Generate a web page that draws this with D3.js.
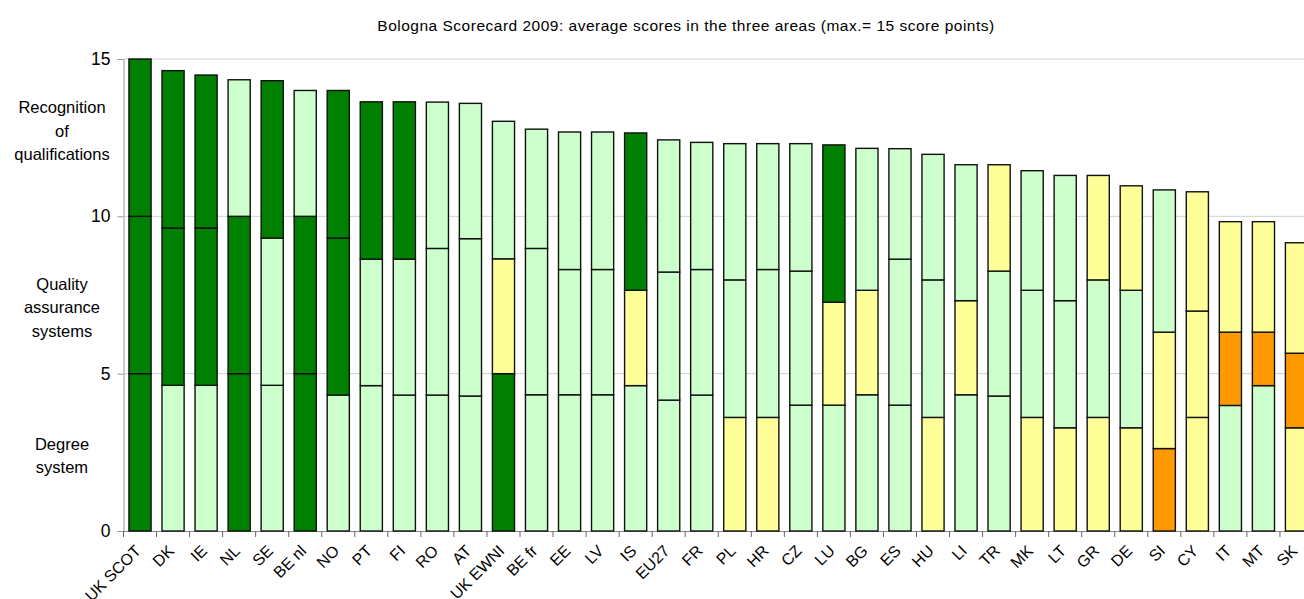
<!DOCTYPE html>
<html>
<head>
<meta charset="utf-8">
<script src="https://cdn.jsdelivr.net/npm/d3@7"></script>
<style>
  body { margin: 0; background: #fff; overflow: hidden; }
  svg { display: block; font-family: "Liberation Sans", Arial, sans-serif; }
</style>
</head>
<body>
<svg id="chart" width="1304" height="599"></svg>
<script>
let width = 1304, height = 599;

// countries, sorted by total score
let countries = ["UK SCOT","DK","IE","NL","SE","BE nl","NO","PT","FI","RO","AT","UK EWNI",
  "BE fr","EE","LV","IS","EU27","FR","PL","HR","CZ","LU","BG","ES","HU","LI","TR","MK",
  "LT","GR","DE","SI","CY","IT","MT","SK"];

// average scores per area (max 5 each)
let degree = [5,4.63,4.63,5,4.63,5,4.32,4.62,4.32,4.32,4.29,5,
  4.33,4.33,4.33,4.62,4.16,4.32,3.61,3.61,4.0,4.0,4.33,4.0,3.61,4.33,4.29,3.61,
  3.28,3.61,3.28,2.62,3.61,3.99,4.62,3.28];
let quality = [5,5,5,5,4.68,5,4.99,4.02,4.32,4.66,5.0,3.65,
  4.65,3.98,3.98,3.03,4.07,3.99,4.37,4.7,4.26,3.27,3.32,4.64,4.37,2.99,3.97,4.04,
  4.04,4.37,4.37,3.7,3.38,2.33,1.7,2.37];
let recognition = [5,5,4.86,4.34,5,4.0,4.69,5,5,4.65,4.3,4.37,
  3.79,4.37,4.37,5,4.2,4.04,4.33,4.0,4.05,5,4.51,3.51,3.99,4.32,3.38,3.8,
  3.98,3.32,3.32,4.52,3.79,3.51,3.51,3.51];

// scorecard colour grade of each area: 5 dark green, 4 light green, 3 yellow, 2 orange
let degreeGrade = [5,4,4,5,4,5,4,4,4,4,4,5,
  4,4,4,4,4,4,3,3,4,4,4,4,3,4,4,3,
  3,3,3,2,3,4,4,3];
let qualityGrade = [5,5,5,5,4,5,5,4,4,4,4,3,
  4,4,4,3,4,4,4,4,4,3,3,4,4,3,4,4,
  4,4,4,3,3,2,2,2];
let recognitionGrade = [5,5,5,4,5,4,5,5,5,4,4,4,
  4,4,4,5,4,4,4,4,4,5,4,4,4,4,3,4,
  4,3,3,4,3,3,3,3];

let areas = ["degree","quality","recognition"];
let areaLabels = [["Degree","system"],["Quality","assurance","systems"],["Recognition","of","qualifications"]];
let yTicks = [0,5,10,15];
let title = "Bologna Scorecard 2009: average scores in the three areas (max.= 15 score points)";

let rows = countries.map((c, i) => ({
  country: c,
  degree: degree[i], quality: quality[i], recognition: recognition[i],
  grades: {degree: degreeGrade[i], quality: qualityGrade[i], recognition: recognitionGrade[i]}
}));

let series = d3.stack().keys(areas)(rows);

let x = d3.scaleBand()
  .domain(countries)
  .range([123.5, 1313])
  .paddingInner(0.33)
  .paddingOuter(0.165);

let y = d3.scaleLinear().domain([0, 15]).range([531, 59]);

let colour = d3.scaleOrdinal()
  .domain([5, 4, 3, 2])
  .range(["#008000", "#CCFFCC", "#FFFF99", "#FF9900"]);

let svg = d3.select("#chart");

svg.append("text")
  .attr("x", 686).attr("y", 31)
  .attr("text-anchor", "middle")
  .attr("font-size", 15.5)
  .attr("letter-spacing", 0.5)
  .attr("fill", "#000")
  .text(title);

// gridlines
svg.append("g")
  .selectAll("line")
  .data(yTicks.filter(d => d > 0))
  .enter().append("line")
  .attr("x1", 124).attr("x2", width)
  .attr("y1", d => y(d)).attr("y2", d => y(d))
  .attr("stroke", "#d0d0d0")
  .attr("stroke-width", 1);

// y axis
let yAxis = svg.append("g")
  .attr("transform", "translate(123.5,0)")
  .call(d3.axisLeft(y).tickValues(yTicks).tickSize(6).tickPadding(7));
yAxis.select(".domain").attr("stroke", "#999");
yAxis.selectAll(".tick line").attr("stroke", "#999");
yAxis.selectAll("text").attr("font-size", 17.5).attr("font-family", "Liberation Sans, Arial, sans-serif").attr("fill", "#000");

// x axis with ticks between categories
let boundaries = countries.map(c => x(c) - x.step() * x.paddingInner() / 2);
boundaries.push(x(countries[countries.length - 1]) + x.bandwidth() + x.step() * x.paddingInner() / 2);

let xAxis = svg.append("g");
xAxis.append("line")
  .attr("x1", 123.5).attr("x2", width)
  .attr("y1", y(0) + 0.5).attr("y2", y(0) + 0.5)
  .attr("stroke", "#888");
xAxis.selectAll(".btick")
  .data(boundaries)
  .enter().append("line")
  .attr("class", "btick")
  .attr("x1", d => d).attr("x2", d => d)
  .attr("y1", y(0)).attr("y2", y(0) + 6)
  .attr("stroke", "#666");

xAxis.selectAll(".xlabel")
  .data(countries)
  .enter().append("text")
  .attr("class", "xlabel")
  .attr("transform", d => "translate(" + (x(d) + x.bandwidth() / 2 - 6) + "," + (y(0) + 13) + ") rotate(-45)")
  .attr("text-anchor", "end")
  .attr("dy", "0.7em")
  .attr("font-size", 16)
  .text(d => d);

// stacked bars
svg.append("g")
  .selectAll("g")
  .data(series)
  .enter().append("g")
  .selectAll("rect")
  .data(s => s.map(d => ({d: d, key: s.key})))
  .enter().append("rect")
  .attr("x", p => x(p.d.data.country))
  .attr("width", x.bandwidth())
  .attr("y", p => y(p.d[1]))
  .attr("height", p => y(p.d[0]) - y(p.d[1]))
  .attr("fill", p => colour(p.d.data.grades[p.key]))
  .attr("stroke", "#111")
  .attr("stroke-width", 1.4);

// area labels on the left
let labelCentres = [2.5, 7.5, 12.5];
let lab = svg.append("g")
  .selectAll("text")
  .data(areaLabels)
  .enter().append("text")
  .attr("text-anchor", "middle")
  .attr("font-size", 16.5)
  .attr("fill", "#000");

lab.each(function(lines, i) {
  let cy = y(labelCentres[i]) + [3, 12, -7][i];
  let t = d3.select(this);
  lines.forEach((l, j) => {
    t.append("tspan")
      .attr("x", 62)
      .attr("y", cy + (j - (lines.length - 1) / 2) * 23.5 + 6)
      .text(l);
  });
});
</script>
</body>
</html>
